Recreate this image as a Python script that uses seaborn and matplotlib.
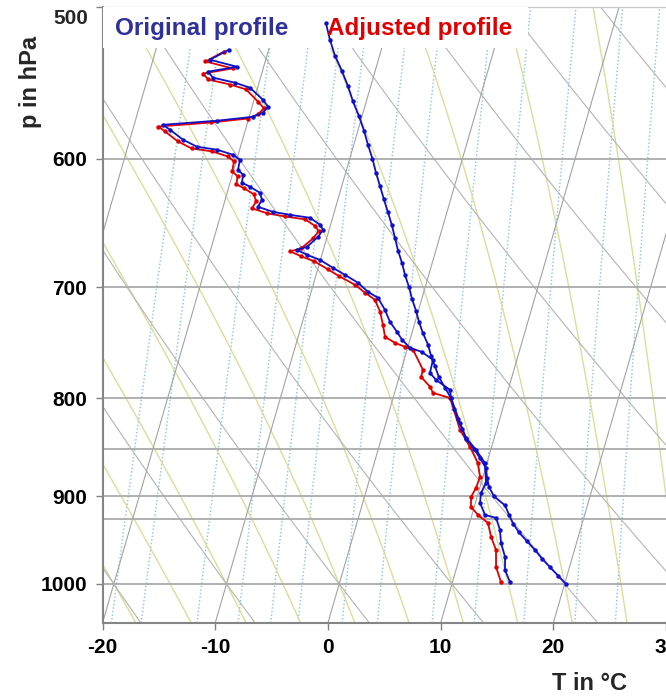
import numpy as np
import pandas as pd
import seaborn as sns
import matplotlib.pyplot as plt
from matplotlib.patches import Rectangle
from matplotlib.ticker import NullLocator, FixedLocator

# ---------------- data ----------------
p_T_orig = [510, 520, 530, 540, 550, 560, 570, 580, 590, 600, 610, 620, 630, 640, 650, 660,
            670, 680, 690, 700, 710, 720, 730, 740, 750, 760, 770, 780, 790, 800, 810, 820,
            830, 840, 850, 860, 870, 880, 890, 900, 910, 920, 930, 940, 950, 960, 970, 980,
            990, 1000]
T_orig = [-15.58, -14.82, -13.97, -12.94, -12.01, -11.19, -10.28, -9.46, -8.74, -7.98, -7.32,
          -6.61, -5.92, -5.22, -4.54, -3.94, -3.35, -2.68, -2.10, -1.44, -0.87, -0.22, 0.35,
          0.99, 1.72, 2.27, 2.91, 3.53, 4.35, 5.15, 5.67, 6.29, 6.91, 7.52, 8.49, 9.27, 10.04,
          10.38, 10.80, 11.48, 12.70, 13.28, 13.87, 14.63, 15.57, 16.50, 17.34, 18.27, 19.20,
          20.12]

p_Td_orig = [526.3, 532.7, 537.2, 540.4, 544.3, 547.6, 550.9, 559.0, 563.6, 567.7, 570.5, 573.2,
             576.0, 579.4, 586.4, 591.4, 593.5, 597.1, 600.7, 608.0, 611.6, 617.5, 620.5, 625.0,
             630.3, 635.6, 639.5, 641.8, 644.1, 649.5, 653.4, 659.0, 667.0, 669.4, 673.4, 677.5,
             684.0, 689.8, 696.4, 704.0, 709.1, 719.4, 729.9, 738.7, 745.8, 753.0, 756.7, 764.0,
             776.0, 782.6, 792.0, 799.7, 824.1, 839.0, 851.2, 864.7, 885.7, 896.4, 907.2, 920.4,
             923.7, 937.2, 951.9, 968.0, 983.3, 997.6]
Td_orig = [-23.52, -24.95, -22.37, -24.81, -24.22, -22.14, -20.68, -19.21, -18.59, -18.88, -19.66,
           -22.76, -27.45, -26.70, -25.28, -23.86, -22.01, -20.47, -19.71, -19.63, -19.06, -18.94,
           -18.13, -17.09, -16.73, -16.91, -15.45, -13.86, -12.00, -10.94, -10.54, -10.80, -11.53,
           -12.34, -11.32, -10.04, -8.68, -7.44, -6.07, -4.96, -3.92, -2.99, -2.23, -1.35, -0.70,
           0.21, 1.37, 2.56, 2.62, 3.35, 4.84, 5.14, 6.58, 7.50, 8.70, 9.82, 10.43, 10.24, 10.41,
           11.16, 12.22, 12.88, 13.30, 14.02, 14.35, 15.10]

p_Td_adj = [527.5, 533.8, 538.3, 541.6, 545.5, 548.8, 552.0, 560.2, 564.8, 568.9, 571.7, 574.4,
            577.2, 580.6, 587.6, 592.6, 594.7, 598.3, 601.9, 609.2, 612.8, 618.7, 621.7, 626.2,
            631.5, 636.8, 640.7, 643.0, 645.3, 650.7, 654.6, 660.2, 668.2, 670.6, 674.6, 678.7,
            685.2, 691.0, 698.1, 704.8, 710.8, 721.1, 732.5, 743.1, 748.5, 752.1, 754.8, 773.2,
            779.7, 789.1, 794.9, 799.7, 831.0, 848.2, 864.7, 879.3, 891.0, 900.7, 911.6, 920.4,
            929.3, 945.1, 960.0, 979.8, 997.6]
Td_adj = [-23.9, -25.3, -22.7, -25.2, -24.6, -22.5, -21.0, -19.6, -18.9, -19.3, -20.1, -23.2,
          -27.8, -27.1, -25.7, -24.3, -22.4, -20.9, -20.2, -20.1, -19.5, -19.4, -18.6, -17.6,
          -17.2, -17.4, -15.9, -14.3, -12.4, -11.3, -10.9, -11.2, -12.0, -12.9, -11.8, -10.5,
          -9.1, -7.9, -6.29, -5.19, -4.13, -3.37, -2.78, -2.29, -1.25, -0.25, 0.53, 1.93, 1.94,
          2.99, 3.41, 5.05, 6.76, 8.08, 9.20, 9.74, 9.67, 9.46, 9.71, 10.54, 11.63, 12.27, 13.04,
          13.48, 14.30]

x_ticks = [-20, -10, 0, 10, 20, 30]
p_ticks = [500, 600, 700, 800, 900, 1000]
p_grid = [600, 700, 800, 850, 900, 925, 1000]
isotherms = list(range(-90, 50, 10))
dry_adiabats = list(range(-40, 120, 10))        # theta as T at 1000 hPa (deg C)
moist_adiabats = list(range(-30, 45, 5))        # T at 1000 hPa (deg C)
mixing_ratios = [0.8, 1, 1.5, 2, 2.5, 3, 4, 5, 7, 9, 12, 16, 20]   # g/kg

# ---------------- skew-T geometry ----------------
P_BOT, P_TOP = 1048.0, 500.0
SKEW = 21.4


def skew(T, p):
    return np.asarray(T, float) + SKEW * np.log(P_BOT / np.asarray(p, float))


def moist_profile(t0, p):
    Rd, cp, L, eps = 287.04, 1005.7, 2.501e6, 0.622

    def f(T, pp):
        es = 6.112 * np.exp(17.67 * (T - 273.15) / (T - 29.65))
        rs = eps * es / (pp - es)
        return ((Rd * T + L * rs) / pp) / (cp + L * L * rs * eps / (Rd * T * T))

    out = []
    for target in p:
        T = t0 + 273.15
        pp = 1000.0
        n = max(2, int(abs(target - 1000.0) / 2))
        h = (target - 1000.0) / n
        for _ in range(n):
            k1 = f(T, pp)
            k2 = f(T + h * k1 / 2, pp + h / 2)
            k3 = f(T + h * k2 / 2, pp + h / 2)
            k4 = f(T + h * k3, pp + h)
            T += h * (k1 + 2 * k2 + 2 * k3 + k4) / 6
            pp += h
        out.append(T - 273.15)
    return np.array(out)


sns.set_theme(style='white')
plt.rcParams['font.family'] = ['Liberation Sans', 'DejaVu Sans']
plt.rcParams['font.weight'] = 'bold'

fig = plt.figure(figsize=(6.66, 6.97), dpi=100)
ax = fig.add_axes([102.5 / 666, 74 / 697, (666 - 102.5) / 666, 616 / 697])
ax.set_yscale('log')

pp = np.geomspace(P_BOT, 480, 120)

# mixing ratio lines (cyan dotted)
for w in mixing_ratios:
    ww = w / 1000.0
    e = ww * pp / (0.622 + ww)
    ln = np.log(e / 6.112)
    td = 243.5 * ln / (17.67 - ln)
    ax.plot(skew(td, pp), pp, color='#86c6d6', lw=1.0, ls=(0, (1, 1.6)), zorder=1)

# moist adiabats (light olive)
pm = np.geomspace(P_BOT, 480, 60)
for t0 in moist_adiabats:
    ax.plot(skew(moist_profile(t0, pm), pm), pm, color='#d9de9a', lw=1.0, zorder=1)

# dry adiabats (grey)
for t0 in dry_adiabats:
    T = (t0 + 273.15) * (pp / 1000.0) ** 0.2857 - 273.15
    ax.plot(skew(T, pp), pp, color='#b4b4b4', lw=0.8, zorder=1)

# isotherms (grey)
for t in isotherms:
    ax.plot(skew(np.full_like(pp, t), pp), pp, color='#a2a2a2', lw=0.8, zorder=1)

# isobars
for p in p_grid:
    ax.axhline(p, color='#aaaaaa', lw=1.3, zorder=2)

# white box behind legend texts
ax.add_patch(Rectangle((0, 0.9334), 0.755, 0.0666, transform=ax.transAxes,
                       facecolor='white', edgecolor='none', zorder=3))

# profiles
df_T = pd.DataFrame({'x': skew(T_orig, p_T_orig), 'p': p_T_orig})
df_Td = pd.DataFrame({'x': skew(Td_orig, p_Td_orig), 'p': p_Td_orig})
df_Tda = pd.DataFrame({'x': skew(Td_adj, p_Td_adj), 'p': p_Td_adj})

kw = dict(sort=False, estimator=None, marker='o', markersize=3.2, markeredgewidth=0,
          lw=1.3, ax=ax, legend=False)
sns.lineplot(data=df_Tda, x='x', y='p', color='#e00000', zorder=4, **kw)
sns.lineplot(data=df_Td, x='x', y='p', color='#1010c8', zorder=5, **kw)
sns.lineplot(data=df_T, x='x', y='p', color='#1010c8', zorder=5, **kw)

ax.set_xlim(-20, 30)
ax.set_ylim(P_BOT, P_TOP)
ax.set_xlabel('')
ax.set_ylabel('')
ax.yaxis.set_major_locator(FixedLocator(p_ticks))
ax.yaxis.set_minor_locator(NullLocator())
# the top label (500) sits a little below the upper edge, as in the original
ax.set_yticklabels([''] + [str(v) for v in p_ticks[1:]])
ax.set_xticks(x_ticks)
ax.set_xticklabels([str(v) for v in x_ticks])
ax.tick_params(axis='both', direction='out', length=5, width=1, color='#808080',
               labelsize=15, labelcolor='black', pad=6, left=True, bottom=True)
for lab in ax.get_xticklabels() + ax.get_yticklabels():
    lab.set_fontweight('bold')

for side in ['left', 'bottom']:
    ax.spines[side].set_color('#858585')
    ax.spines[side].set_linewidth(1.5)
ax.spines['top'].set_color('#cccccc')
ax.spines['top'].set_linewidth(1.0)
ax.spines['right'].set_visible(False)

fig.text(88 / 666, 1 - 19 / 697, str(p_ticks[0]), fontsize=15, fontweight='bold',
         ha='right', va='center')
fig.text(115 / 666, 1 - 29 / 697, 'Original profile', color='#30309a', fontsize=17.5,
         fontweight='bold', ha='left', va='center')
fig.text(327 / 666, 1 - 29 / 697, 'Adjusted profile', color='#e00000', fontsize=17.5,
         fontweight='bold', ha='left', va='center')
fig.text(30 / 666, 1 - 82 / 697, 'p in hPa', rotation=90, fontsize=17, fontweight='bold',
         ha='center', va='center')
fig.text(590 / 666, 1 - 683 / 697, 'T in °C', fontsize=17, fontweight='bold',
         ha='center', va='center')

fig.savefig('out.png', dpi=100)
